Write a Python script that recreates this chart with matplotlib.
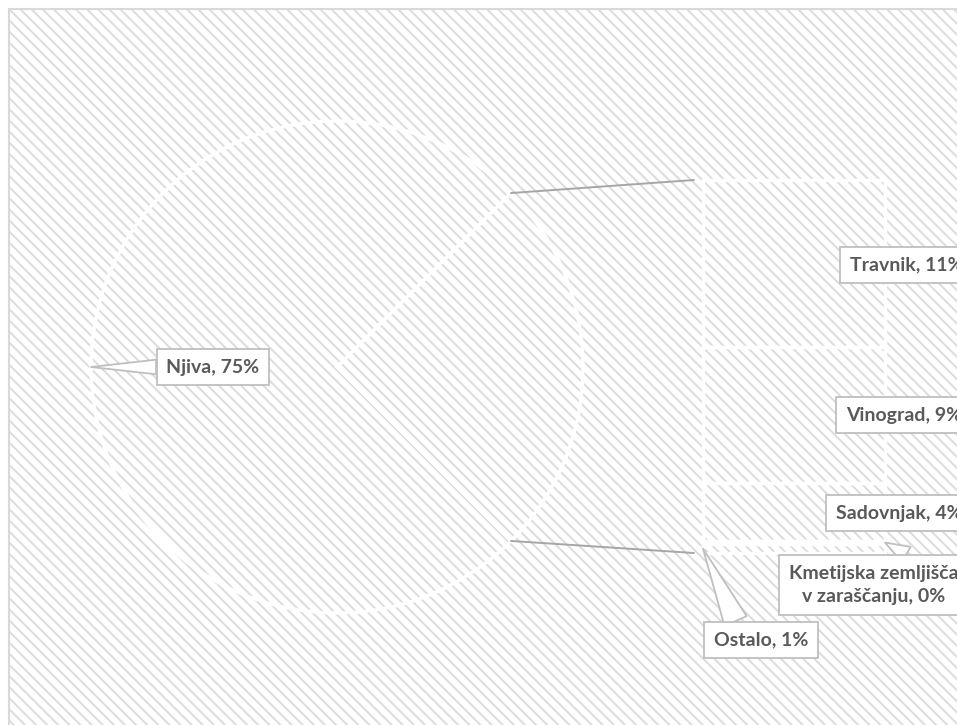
import numpy as np
import matplotlib.pyplot as plt
from matplotlib.patches import Rectangle, ConnectionPatch

plt.rcParams['hatch.linewidth'] = 1.4
plt.rcParams['font.family'] = ['Lato', 'DejaVu Sans']

# data (% of agricultural land)
njiva_label = 'Njiva'
njiva_value = 75.0
bar_labels = ['Travnik', 'Vinograd', 'Sadovnjak',
              'Kmetijska zemljišča\nv zaraščanju', 'Ostalo']
bar_values = [11.2, 9.1, 3.9, 0.2, 0.6]

W, H = 957, 725
fig = plt.figure(figsize=(W / 100, H / 100), dpi=100)
ax = fig.add_axes([0, 0, 1, 1])

txt_col = '#595959'
box = dict(boxstyle='square,pad=0.5', fc='white', ec='#bfbfbf', lw=1.3)
fs = 14
edge_w = 2.4

# hatched chart area + its border
ax.add_patch(Rectangle((9, -20), W + 20, H - 9 + 20, facecolor='white',
                       edgecolor='#dcdcdc', hatch='\\\\\\', lw=0, zorder=0))
ax.add_patch(Rectangle((9, -20), W + 20, H - 9 + 20, facecolor='none',
                       edgecolor='#d9d9d9', lw=1.5, zorder=0.5))

# pie: Njiva + everything else
other_total = sum(bar_values)
total = njiva_value + other_total
cx, cy, r = 337, H - 367, 246
wedges, _ = ax.pie([njiva_value, other_total], startangle=45, center=(cx, cy),
                   radius=r, colors=['none', 'none'],
                   wedgeprops=dict(edgecolor='white', linewidth=edge_w))
ax.set_xlim(0, W)
ax.set_ylim(0, H)
ax.set_axis_off()

# bar of the "other" slice
bx0, bx1, by_top, by_bot = 703, 885, 180, 553
ax2 = fig.add_axes([bx0 / W, (H - by_bot) / H, (bx1 - bx0) / W, (by_bot - by_top) / H])
vals = np.array(bar_values)
bottoms = other_total - np.cumsum(vals)
ax2.bar(np.zeros(len(vals)), vals, bottom=bottoms, width=1, color='none',
        edgecolor='white', linewidth=edge_w, clip_on=False)
ax2.set_xlim(-0.5, 0.5)
ax2.set_ylim(0, other_total)
ax2.set_axis_off()

# connector lines
w = wedges[1]
for ang, yb in [(w.theta2, other_total), (w.theta1, 0)]:
    p = (cx + r * np.cos(np.radians(ang)), cy + r * np.sin(np.radians(ang)))
    con = ConnectionPatch(xyA=p, coordsA=ax.transData, xyB=(-0.55, yb),
                          coordsB=ax2.transData, color='#a6a6a6', lw=1.4)
    fig.add_artist(con)


def pct(v):
    return f"{v / total * 100:.0f}%"


# Njiva label
mid = np.radians((wedges[0].theta1 + wedges[0].theta2) / 2)
tip = (cx + r * np.cos(mid), cy + r * np.sin(mid))
ax.annotate(f"{njiva_label}, {pct(njiva_value)}", xy=tip, xytext=(213, H - 367),
            ha='center', va='center', fontsize=fs, fontweight='bold', color=txt_col,
            bbox=box,
            arrowprops=dict(arrowstyle='wedge,tail_width=0.75', fc='white', ec='#bfbfbf',
                            lw=1.3, shrinkA=0, shrinkB=0, relpos=(0, 0.5)))

# bar labels (drawn in ax2 so they sit above the bar outline)
label_pos = [(850, 265, 'left'), (846, 415, 'left'), (836, 513, 'left'),
             (874, 585, 'center'), (761, 640, 'center')]
mids = bottoms + vals / 2
for i, (name, v) in enumerate(zip(bar_labels, vals)):
    x, y, ha = label_pos[i]
    s = f"{name}, {pct(v)}"
    kw = dict(textcoords='figure pixels', ha=ha, va='center', fontsize=fs,
              fontweight='bold', color=txt_col, bbox=box, zorder=5)
    if i == 3:
        ax2.annotate(s, xy=(0.5, mids[i]), xytext=(x, H - y),
                     multialignment='center', linespacing=1.45,
                     arrowprops=dict(arrowstyle='wedge,tail_width=0.9', fc='white',
                                     ec='#bfbfbf', lw=1.3, shrinkA=0, shrinkB=0,
                                     relpos=(0.8, 1.0)), **kw)
    elif i == 4:
        ax2.annotate(s, xy=(-0.5, mids[i]), xytext=(x, H - y),
                     arrowprops=dict(arrowstyle='wedge,tail_width=1.25', fc='white',
                                     ec='#bfbfbf', lw=1.3, shrinkA=0, shrinkB=0,
                                     relpos=(0.28, 1.0)), **kw)
    else:
        ax2.annotate(s, xy=(x, H - y), xycoords='figure pixels', **kw)

fig.savefig('out.png', dpi=100)
